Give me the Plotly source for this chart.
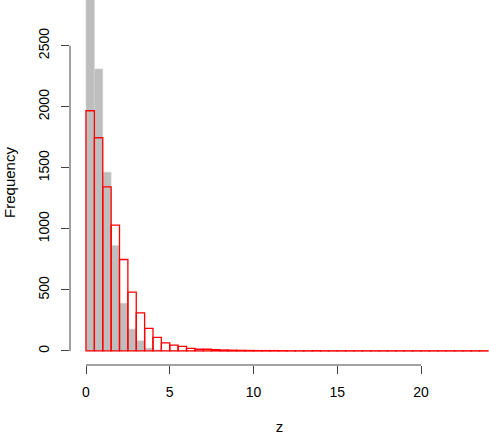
import plotly.graph_objects as go

# bin left edges (width 0.5) from 0 to 23.5
bin_width = 0.5
bin_lefts = [i * 0.5 for i in range(48)]

gray_counts = [2950, 2309, 1464, 863, 391, 178, 83, 23, 9, 4, 2, 1] + [0] * 36
red_counts = [1967, 1746, 1344, 1030, 749, 481, 312, 185, 111, 67, 48, 37, 21, 14, 14, 11,
              8, 6, 5, 4, 3, 3, 3, 2, 1, 1, 1, 2, 1, 1, 1, 1, 1, 1, 1, 1, 1, 1, 1, 1,
              1, 1, 1, 1, 1, 1, 1, 1]

x_ticks = [0, 5, 10, 15, 20]
y_ticks = [0, 500, 1000, 1500, 2000, 2500]

centers = [b + bin_width / 2 for b in bin_lefts]

fig = go.Figure()
fig.add_trace(go.Bar(x=centers, y=gray_counts, width=bin_width,
                     marker=dict(color="#BEBEBE", line=dict(color="#D0D0D0", width=0.6)),
                     showlegend=False))
fig.add_trace(go.Bar(x=centers, y=red_counts, width=bin_width,
                     marker=dict(color="rgba(0,0,0,0)", line=dict(color="red", width=1.3)),
                     showlegend=False))

axis_col = "#444444"
fig.add_shape(type="line", xref="x", yref="paper", x0=0, x1=20, y0=0, y1=0,
              line=dict(color=axis_col, width=1))
fig.add_shape(type="line", xref="paper", yref="y", x0=0, x1=0, y0=0, y1=2500,
              line=dict(color=axis_col, width=1))

font = dict(family="Liberation Sans, Arial, sans-serif", size=14, color="black")
title_font = dict(family="Liberation Sans, Arial, sans-serif", size=15, color="black")

fig.update_layout(
    width=489, height=435,
    margin=dict(l=70, r=0, t=0, b=70, autoexpand=False),
    paper_bgcolor="white", plot_bgcolor="white",
    barmode="overlay", bargap=0,
    font=font,
    xaxis=dict(range=[-0.955, 24.06], tickvals=x_ticks, ticktext=[str(v) for v in x_ticks],
               ticks="outside", ticklen=8, tickcolor=axis_col, tickwidth=1,
               showgrid=False, zeroline=False, showline=False, automargin=False,
               ticklabelstandoff=6,
               title=dict(text="z", standoff=29, font=title_font)),
    yaxis=dict(range=[-115, 2874], tickvals=y_ticks, ticktext=[str(v) for v in y_ticks],
               ticks="outside", ticklen=8, tickcolor=axis_col, tickwidth=1, tickangle=-90,
               showgrid=False, zeroline=False, showline=False, automargin=False,
               ticklabelstandoff=6,
               title=dict(text="Frequency", standoff=17, font=title_font)),
)

fig.write_html("out.html", config={"displayModeBar": False, "staticPlot": True},
               post_script="document.body.style.margin='0';")
